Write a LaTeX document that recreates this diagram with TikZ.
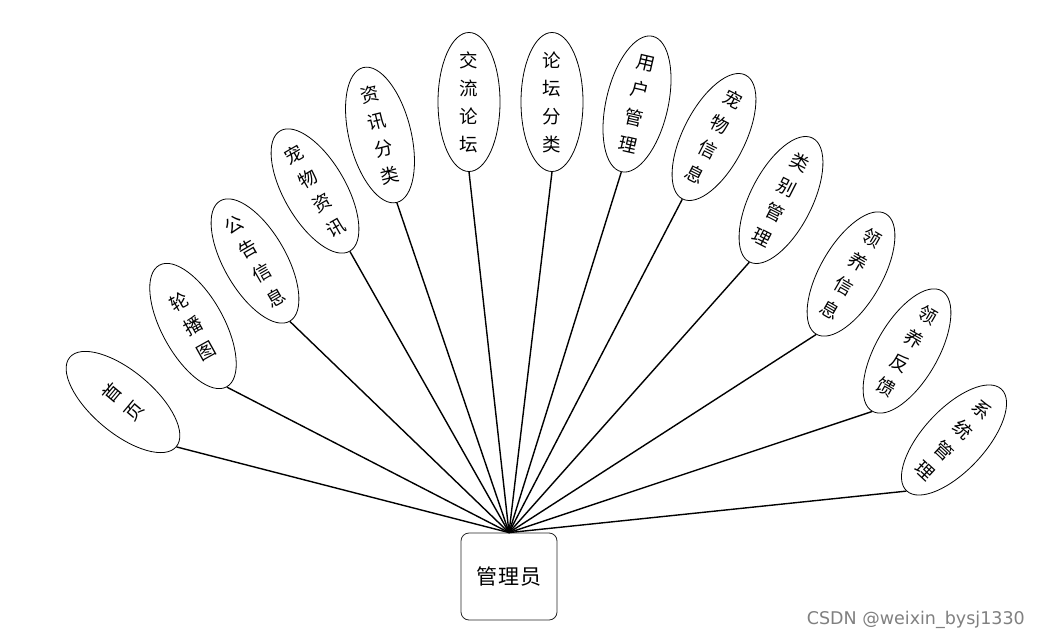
\documentclass[tikz,border=0pt]{standalone}
\usepackage{fontspec}
\newfontfamily\cjk{Noto Sans CJK SC}
\newfontfamily\wmfont{DejaVu Sans}
\usetikzlibrary{shapes.geometric}
\newcommand\leafnode[4]{%
  \node[leaf, rotate=#3] (#1) at (#2) {};
  \node[leaftext, rotate=#3] (#1t) at (#1.center) {#4};
  \draw[conn] (box.north) -- (#1.south);
}
\begin{document}
\begin{tikzpicture}[x=1pt,y=-1pt,
 leaf/.style={draw=black, line width=0.8pt, ellipse, minimum width=62pt, minimum height=139pt, inner sep=0pt},
 leaftext/.style={font=\cjk\fontsize{18.5}{28}\selectfont, align=center, inner sep=0pt},
 conn/.style={draw=black, line width=1.4pt},
 hubbox/.style={draw=black!85, line width=0.8pt, rounded corners=8pt, minimum width=96pt, minimum height=87pt, font=\cjk\fontsize{21}{24}\selectfont},
 wm/.style={font=\wmfont\fontsize{17.5}{20}\selectfont, text=black!50, inner sep=0pt}
]
\useasboundingbox (0,0) rectangle (1040,639);
\fill[white] (0,0) rectangle (1040,639);
\node[hubbox] (box) at (509,576.5) {管\hspace{1pt}理\hspace{1pt}员};
\leafnode{shouye}{123,402}{50}{首\\页}
\leafnode{lunbo}{193,326}{29}{轮\\播\\图}
\leafnode{gonggao}{255,261}{30}{公\\告\\信\\息}
\leafnode{cwzx}{315,191}{30}{宠\\物\\资\\讯}
\leafnode{zxfl}{380,135}{14}{资\\讯\\分\\类}
\leafnode{jllt}{469,102}{0}{交\\流\\论\\坛}
\leafnode{ltfl}{552,102}{0}{论\\坛\\分\\类}
\leafnode{yhgl}{637,104}{-13}{用\\户\\管\\理}
\leafnode{cwxx}{714,137}{-27}{宠\\物\\信\\息}
\leafnode{lbgl}{781,200}{-27}{类\\别\\管\\理}
\leafnode{lyxx}{851,274}{-30}{领\\养\\信\\息}
\leafnode{lyfk}{907,351}{-30}{领\\养\\反\\馈}
\leafnode{xtgl}{954,440}{-43}{系\\统\\管\\理}
\node[wm, anchor=east] (wmk) at (1025,620) {CSDN @weixin\_bysj1330};
\end{tikzpicture}
\end{document}
